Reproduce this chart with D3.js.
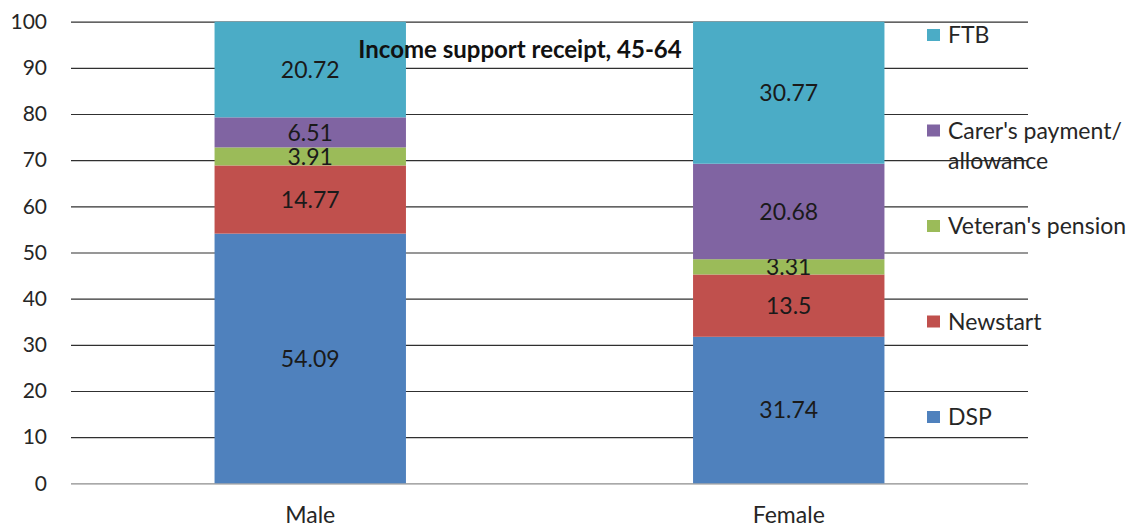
<!DOCTYPE html>
<html>
<head>
<meta charset="utf-8">
<script src="https://cdn.jsdelivr.net/npm/d3@7"></script>
<style>
  body { margin: 0; background: #fff; }
  svg text { font-family: Lato, "Open Sans", sans-serif; }
</style>
</head>
<body>
<svg id="chart" width="1139" height="529"></svg>
<script>
// data
var categories = ['Male', 'Female'];
var seriesNames = ['DSP', 'Newstart', "Veteran's pension", "Carer's payment/ allowance", 'FTB'];
var seriesColors = ['#4f81bd', '#c0504d', '#9bbb59', '#8064a2', '#4bacc6'];
var maleValues = [54.09, 14.77, 3.91, 6.51, 20.72];
var femaleValues = [31.74, 13.5, 3.31, 20.68, 30.77];
var yTicks = [0, 10, 20, 30, 40, 50, 60, 70, 80, 90, 100];
var chartTitle = 'Income support receipt, 45-64';

var margin = { top: 21.7, right: 111, bottom: 45.7, left: 71 },
    totalW = 1139,
    totalH = 529,
    width = totalW - margin.left - margin.right,
    height = totalH - margin.top - margin.bottom;

// rows for the stack
var rows = categories.map(function(c, i) {
  var vals = i === 0 ? maleValues : femaleValues,
      o = { category: c };
  seriesNames.forEach(function(s, j) { o[s] = vals[j]; });
  return o;
});

var series = d3.stack().keys(seriesNames)(rows);

var x = d3.scaleBand()
    .domain(categories)
    .range([0, width])
    .paddingInner(0.6)
    .paddingOuter(0.3);

var y = d3.scaleLinear()
    .domain([0, 100])
    .range([height, 0]);

var svg = d3.select('#chart'),
    g = svg.append('g')
      .attr('transform', 'translate(' + margin.left + ',' + margin.top + ')');

// gridlines
var grid = g.append('g')
    .attr('class', 'grid')
    .call(d3.axisLeft(y).tickValues(yTicks).tickSize(-width).tickFormat(''));
grid.select('.domain').remove();
grid.selectAll('line')
    .attr('stroke', function(d) { return d === 0 ? '#8c8c8c' : '#303030'; })
    .attr('stroke-width', 1.2);

// y tick labels
var yAxis = g.append('g')
    .call(d3.axisLeft(y).tickValues(yTicks).tickSize(0).tickPadding(24));
yAxis.select('.domain').remove();
yAxis.selectAll('text')
    .attr('fill', '#262626')
    .style('font-size', '21px');

// x labels
var xAxis = g.append('g')
    .attr('transform', 'translate(0,' + height + ')')
    .call(d3.axisBottom(x).tickSize(0).tickPadding(23));
xAxis.select('.domain').remove();
xAxis.selectAll('text')
    .attr('fill', '#262626')
    .style('font-size', '23px');

// stacked bars
var layers = g.selectAll('g.layer')
    .data(series)
    .enter().append('g')
    .attr('class', 'layer')
    .attr('fill', function(d, i) { return seriesColors[i]; });

layers.selectAll('rect')
    .data(function(d) { return d; })
    .enter().append('rect')
    .attr('x', function(d) { return x(d.data.category); })
    .attr('width', x.bandwidth())
    .attr('y', function(d) { return y(d[1]); })
    .attr('height', function(d) { return y(d[0]) - y(d[1]); });

// value labels
layers.selectAll('text')
    .data(function(d) { return d.map(function(p) { return { p: p, key: d.key }; }); })
    .enter().append('text')
    .attr('x', function(d) { return x(d.p.data.category) + x.bandwidth() / 2; })
    .attr('y', function(d) { return y((d.p[0] + d.p[1]) / 2); })
    .attr('dy', '0.36em')
    .attr('text-anchor', 'middle')
    .attr('fill', '#1a1a1a')
    .style('font-size', '23px')
    .text(function(d) { return d.p.data[d.key]; });

// title
svg.append('text')
    .attr('x', 520)
    .attr('y', 58)
    .attr('text-anchor', 'middle')
    .attr('fill', '#111')
    .style('font-size', '24px')
    .style('font-weight', 'bold')
    .text(chartTitle);

// legend, top entry is the last series
var legendOrder = seriesNames.slice().reverse(),
    legend = svg.append('g').attr('class', 'legend');

var items = legend.selectAll('g')
    .data(legendOrder)
    .enter().append('g')
    .attr('transform', function(d, i) { return 'translate(927,' + (35 + i * 95.5) + ')'; });

items.append('rect')
    .attr('x', 0)
    .attr('y', -6)
    .attr('width', 13)
    .attr('height', 12)
    .attr('fill', function(d) { return seriesColors[seriesNames.indexOf(d)]; });

items.append('text')
    .attr('x', 21)
    .attr('fill', '#262626')
    .style('font-size', '23px')
    .each(function(d) {
      var lines = d.indexOf('/ ') !== -1 ? [d.slice(0, d.indexOf('/ ') + 1), d.slice(d.indexOf('/ ') + 2)] : [d];
      d3.select(this).selectAll('tspan')
        .data(lines)
        .enter().append('tspan')
        .attr('x', 21)
        .attr('y', function(l, k) { return k * 30; })
        .attr('dy', '0.36em')
        .text(function(l) { return l; });
    });
</script>
</body>
</html>
